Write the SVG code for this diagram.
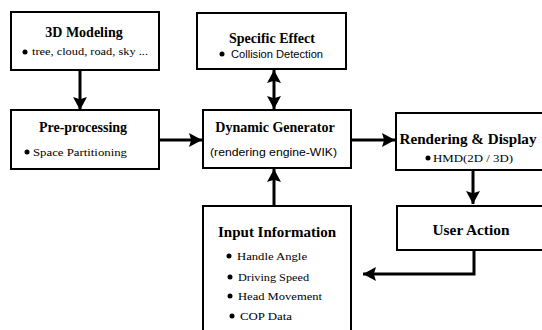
<svg xmlns="http://www.w3.org/2000/svg" width="542" height="330" viewBox="0 0 542 330">
  <style>
    .box { fill: #fff; stroke: #000; stroke-width: 2; }
    .title { font-family: "Liberation Serif", "Times New Roman", serif; font-weight: bold; font-size: 14px; fill: #000; text-anchor: middle; }
    .item { font-family: "Liberation Serif", "Times New Roman", serif; font-size: 10px; fill: #000; }
    .itemsans { font-family: "Liberation Sans", Arial, sans-serif; font-size: 10px; fill: #000; }
    .dot { fill: #000; }
    .wire { fill: none; stroke: #000; stroke-width: 3; }
  </style>
  <defs>
    <marker id="head" viewBox="0 0 12 12" refX="12" refY="6" markerWidth="13" markerHeight="14" markerUnits="userSpaceOnUse" orient="auto-start-reverse" preserveAspectRatio="none">
      <path d="M0,0 L12,6 L0,12 L2,6 Z" fill="#000"/>
    </marker>
  </defs>

  <rect width="542" height="330" fill="#fff"/>

  <g id="connectors">
    <line class="wire" x1="80" y1="71" x2="80" y2="110" marker-end="url(#head)"/>
    <line class="wire" x1="274" y1="70" x2="274" y2="109" marker-start="url(#head)" marker-end="url(#head)"/>
    <line class="wire" x1="160" y1="140" x2="202" y2="140" marker-end="url(#head)"/>
    <line class="wire" x1="352" y1="140" x2="395" y2="140" marker-end="url(#head)"/>
    <line class="wire" x1="473" y1="171" x2="473" y2="204" marker-end="url(#head)"/>
    <line class="wire" x1="274" y1="205" x2="274" y2="169" marker-end="url(#head)"/>
    <polyline class="wire" points="474,251 474,274 363,274" marker-end="url(#head)"/>
  </g>

  <g id="modeling">
    <rect class="box" x="11" y="12" width="148" height="58"/>
    <text class="title" x="84" y="37">3D Modeling</text>
    <circle class="dot" cx="25" cy="52" r="2.5"/>
    <text class="item" x="32" y="55" textLength="116" lengthAdjust="spacingAndGlyphs">tree, cloud, road, sky ...</text>
  </g>

  <g id="effect">
    <rect class="box" x="197" y="13" width="149" height="56"/>
    <text class="title" x="272" y="43">Specific Effect</text>
    <circle class="dot" cx="222" cy="54" r="2.5"/>
    <text class="itemsans" x="231" y="57.5" textLength="92" lengthAdjust="spacingAndGlyphs">Collision Detection</text>
  </g>

  <g id="preprocessing">
    <rect class="box" x="11" y="110" width="148" height="59"/>
    <text class="title" x="83" y="132">Pre-processing</text>
    <circle class="dot" cx="27" cy="152" r="2.5"/>
    <text class="item" x="33" y="155.5" textLength="94" lengthAdjust="spacingAndGlyphs">Space Partitioning</text>
  </g>

  <g id="generator">
    <rect class="box" x="203" y="110" width="148" height="58"/>
    <text class="title" x="275" y="132">Dynamic Generator</text>
    <text class="itemsans" x="210" y="155.5" textLength="127" lengthAdjust="spacingAndGlyphs">(rendering engine-WIK)</text>
  </g>

  <g id="rendering">
    <rect class="box" x="396" y="113" width="150" height="57"/>
    <text class="title" x="468" y="144" textLength="137" lengthAdjust="spacingAndGlyphs">Rendering &amp; Display</text>
    <circle class="dot" cx="428" cy="158" r="2.5"/>
    <text class="item" x="433" y="161.5" textLength="80" lengthAdjust="spacingAndGlyphs">HMD(2D / 3D)</text>
  </g>

  <g id="useraction">
    <rect class="box" x="397" y="206" width="150" height="44"/>
    <text class="title" x="471" y="235" textLength="77" lengthAdjust="spacingAndGlyphs">User Action</text>
  </g>

  <g id="input">
    <rect class="box" x="203" y="206" width="148" height="140"/>
    <text class="title" x="277" y="237" textLength="118" lengthAdjust="spacingAndGlyphs">Input Information</text>
    <circle class="dot" cx="229" cy="256" r="2.5"/>
    <text class="item" x="237" y="259.5" textLength="70" lengthAdjust="spacingAndGlyphs">Handle Angle</text>
    <circle class="dot" cx="230" cy="277" r="2.5"/>
    <text class="item" x="238" y="280.5" textLength="71" lengthAdjust="spacingAndGlyphs">Driving Speed</text>
    <circle class="dot" cx="230" cy="296" r="2.5"/>
    <text class="item" x="238" y="299.5" textLength="84" lengthAdjust="spacingAndGlyphs">Head Movement</text>
    <circle class="dot" cx="232" cy="316" r="2.5"/>
    <text class="item" x="240" y="319.5" textLength="52" lengthAdjust="spacingAndGlyphs">COP Data</text>
  </g>
</svg>
